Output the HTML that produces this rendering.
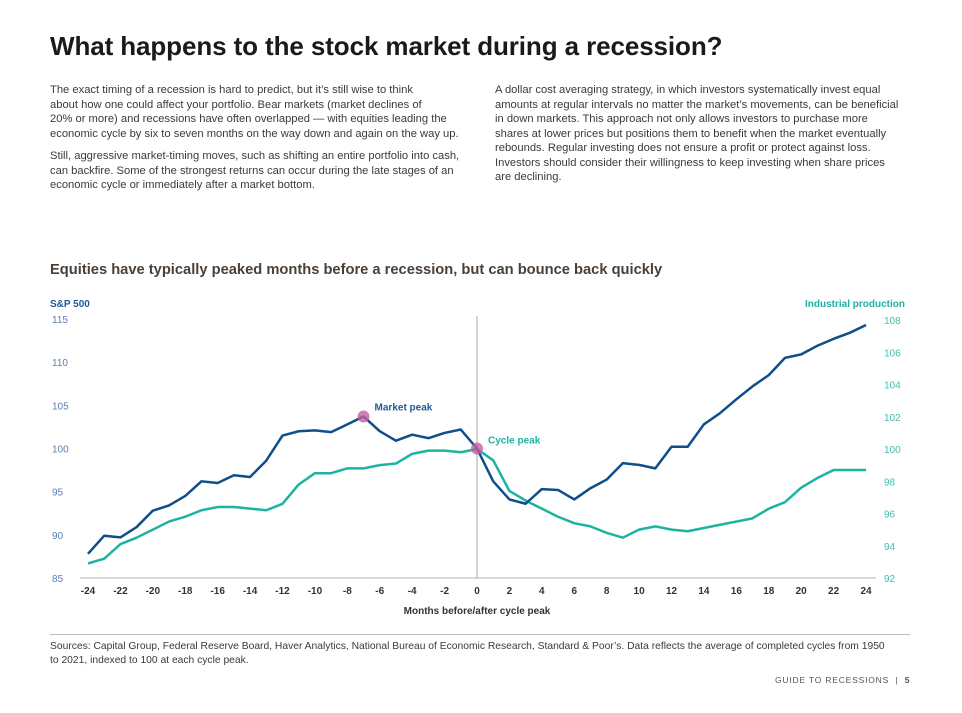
<!DOCTYPE html>
<html><head><meta charset="utf-8"><style>
body{margin:0;width:962px;height:713px;background:#fff;font-family:"Liberation Sans",sans-serif;position:relative;overflow:hidden;color:#333}
.abs{position:absolute}
h1{position:absolute;left:50px;top:31px;margin:0;font-size:26px;font-weight:bold;color:#1a1a1a;letter-spacing:-0.1px}
.p{font-size:11.2px;line-height:14.5px;color:#3a3a3a;white-space:nowrap}
</style></head><body>
<h1>What happens to the stock market during a recession?</h1>
<div class="abs p" style="left:50px;top:83px">The exact timing of a recession is hard to predict, but it’s still wise to think<br>about how one could affect your portfolio. Bear markets (market declines of<br>20% or more) and recessions have often overlapped — with equities leading the<br>economic cycle by six to seven months on the way down and again on the way up.</div>
<div class="abs p" style="left:50px;top:149px">Still, aggressive market-timing moves, such as shifting an entire portfolio into cash,<br>can backfire. Some of the strongest returns can occur during the late stages of an<br>economic cycle or immediately after a market bottom.</div>
<div class="abs p" style="left:495px;top:83px">A dollar cost averaging strategy, in which investors systematically invest equal<br>amounts at regular intervals no matter the market’s movements, can be beneficial<br>in down markets. This approach not only allows investors to purchase more<br>shares at lower prices but positions them to benefit when the market eventually<br>rebounds. Regular investing does not ensure a profit or protect against loss.<br>Investors should consider their willingness to keep investing when share prices<br>are declining.</div>
<div class="abs" style="left:50px;top:262px;font-size:14.7px;font-weight:bold;color:#4a4038">Equities have typically peaked months before a recession, but can bounce back quickly</div>
<svg class="abs" style="left:0;top:0" width="962" height="713" id="chart"></svg>
<div class="abs" style="left:50px;top:634px;width:860px;border-top:1px solid #bbb"></div>
<div class="abs p" style="left:50px;top:640px;font-size:10.3px;line-height:14px">Sources: Capital Group, Federal Reserve Board, Haver Analytics, National Bureau of Economic Research, Standard &amp; Poor’s. Data reflects the average of completed cycles from 1950<br>to 2021, indexed to 100 at each cycle peak.</div>
<div class="abs" style="left:775px;top:675px;font-size:8.5px;letter-spacing:0.8px;color:#555">GUIDE TO RECESSIONS &nbsp;| &nbsp;<b>5</b></div>
<script>
const months=[-24,-23,-22,-21,-20,-19,-18,-17,-16,-15,-14,-13,-12,-11,-10,-9,-8,-7,-6,-5,-4,-3,-2,-1,0,1,2,3,4,5,6,7,8,9,10,11,12,13,14,15,16,17,18,19,20,21,22,23,24];
const sp500=[87.8,89.9,89.7,90.9,92.8,93.4,94.5,96.2,96.0,96.9,96.7,98.6,101.5,102.0,102.1,101.9,102.8,103.7,102.0,100.9,101.6,101.2,101.8,102.2,100,96.2,94.1,93.6,95.3,95.2,94.1,95.4,96.4,98.3,98.1,97.7,100.2,100.2,102.8,104.1,105.7,107.2,108.5,110.5,110.9,111.9,112.7,113.4,114.3];
const indprod=[92.9,93.2,94.1,94.5,95.0,95.5,95.8,96.2,96.4,96.4,96.3,96.2,96.6,97.8,98.5,98.5,98.8,98.8,99.0,99.1,99.7,99.9,99.9,99.8,100,99.3,97.4,96.8,96.3,95.8,95.4,95.2,94.8,94.5,95.0,95.2,95.0,94.9,95.1,95.3,95.5,95.7,96.3,96.7,97.6,98.2,98.7,98.7,98.7];
const xTicks=[-24,-22,-20,-18,-16,-14,-12,-10,-8,-6,-4,-2,0,2,4,6,8,10,12,14,16,18,20,22,24];
const leftTicks=[85,90,95,100,105,110,115];
const rightTicks=[92,94,96,98,100,102,104,106,108];
const peaks=[{m:-7,v:103.7,label:"Market peak"},{m:0,v:100,label:"Cycle peak"}];
const X=m=>477+m*(389/24);
const YL=v=>578-(v-85)*(259/30);
const YR=v=>578-(v-92)*(258/16);
const svg=document.getElementById('chart');const NS='http://www.w3.org/2000/svg';
function mk(t,a,txt){const e=document.createElementNS(NS,t);for(const k in a)e.setAttribute(k,a[k]);if(txt!=null)e.textContent=txt;svg.appendChild(e);return e;}
let e;
e=mk('line',{x1:80,x2:876,y1:578,y2:578,stroke:'#ccc','stroke-width':1.5});

e=mk('line',{x1:X(0),x2:X(0),y1:316,y2:578,stroke:'#aaa','stroke-width':1});

xTicks.forEach(t=>{e=mk('text',{x:X(t),y:594,'text-anchor':'middle','font-size':10,'font-weight':'bold',fill:'#333'},t);
});
leftTicks.forEach(t=>{e=mk('text',{x:52,y:YL(t)+4,'font-size':10,fill:'#5a7fb0'},t);
});
rightTicks.forEach(t=>{e=mk('text',{x:884,y:YR(t)+4,'font-size':10,fill:'#3fc0b0'},t);
});
e=mk('text',{x:50,y:307,'font-size':10,'font-weight':'bold',fill:'#1d5a96'},'S&P 500');

e=mk('text',{x:905,y:307,'font-size':10,'font-weight':'bold',fill:'#1eb1a2','text-anchor':'end'},'Industrial production');

e=mk('text',{x:X(0),y:614,'font-size':10,'font-weight':'bold',fill:'#333','text-anchor':'middle'},'Months before/after cycle peak');

e=mk('polyline',{points:months.map((m,i)=>X(m)+','+YR(indprod[i])).join(' '),fill:'none',stroke:'#1db3a3','stroke-width':2.5,'stroke-linejoin':'round'});

e=mk('polyline',{points:months.map((m,i)=>X(m)+','+YL(sp500[i])).join(' '),fill:'none',stroke:'#0d4e8b','stroke-width':2.5,'stroke-linejoin':'round'});

peaks.forEach((p,i)=>{e=mk('circle',{cx:X(p.m),cy:YL(p.v),r:6,fill:'#c45ea0','fill-opacity':0.8});

e=mk('text',{x:X(p.m)+11,y:YL(p.v)+(i==0?-6:-5),'font-size':10,'font-weight':'bold',fill:i==0?'#1d5a96':'#1eb1a2'},p.label);
});
</script>
</body></html>
